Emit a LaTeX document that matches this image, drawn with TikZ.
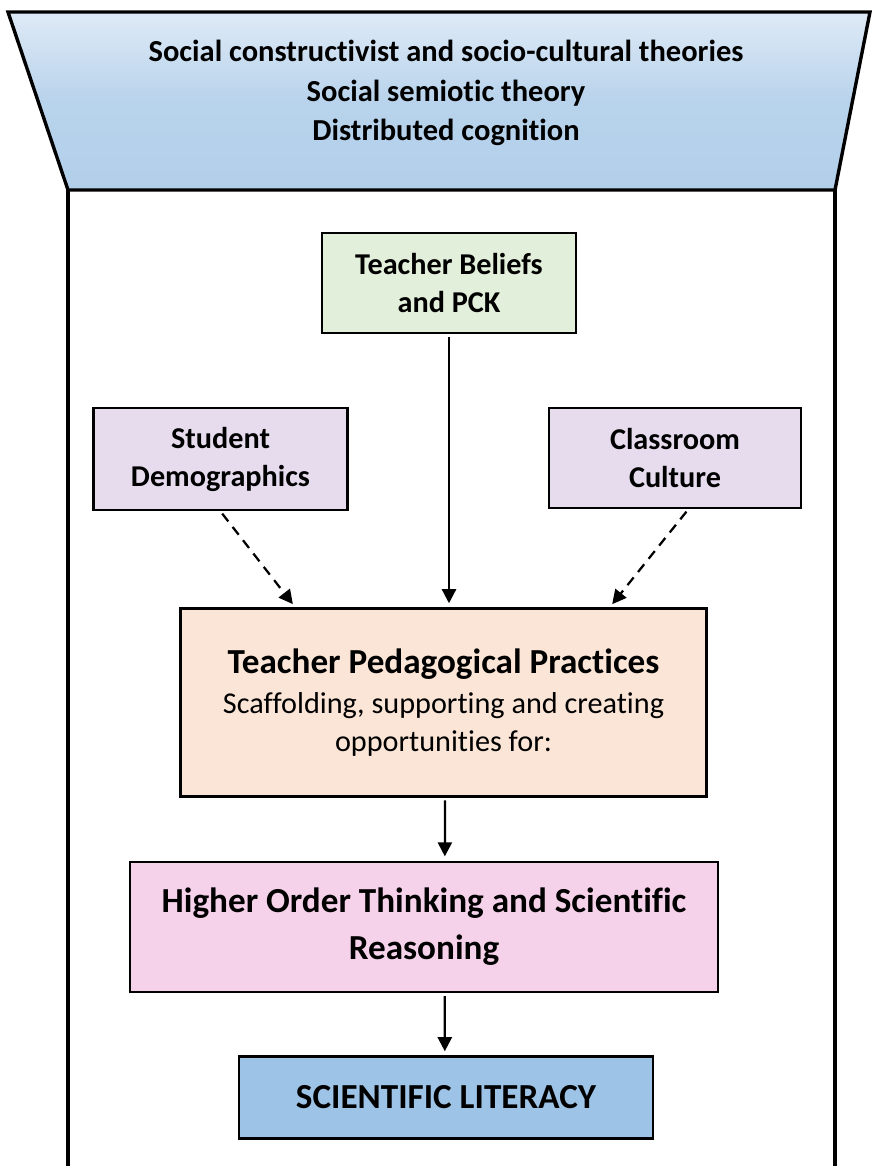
\documentclass[tikz,border=0pt]{standalone}
\usepackage{fontspec}
\setmainfont{Carlito}[Ligatures=NoCommon]
\usetikzlibrary{arrows.meta}
\definecolor{headtop}{HTML}{DEEAF6}
\definecolor{headbot}{HTML}{B2CFEA}
\definecolor{pckgreen}{HTML}{E2EFDA}
\definecolor{lavender}{HTML}{E6DCEE}
\definecolor{peach}{HTML}{FBE5D6}
\definecolor{pinkbox}{HTML}{F5D2EA}
\definecolor{litblue}{HTML}{9DC3E6}
\begin{document}
\begin{tikzpicture}[x=0.025cm, y=-0.025cm,
                    box/.style={draw, line width=2pt, align=center, inner sep=0pt,
                                font=\bfseries\fontsize{21.5}{27}\selectfont},
                    flow/.style={-{Triangle[length=10pt,width=10pt]}, line width=1.6pt,
                                 shorten <=2pt, shorten >=3pt},
                    dashflow/.style={flow, dash pattern=on 7pt off 5pt}]

  \useasboundingbox (0,0) rectangle (872,1166);

  % theory frame
  \shade[top color=headtop, bottom color=headbot, middle color=headbot!85!headtop]
    (8,12) -- (870,12) -- (835,190) -- (68,190) -- cycle;
  \draw[line width=2.4pt, line join=miter] (8,12) -- (870,12) -- (835,190) -- (68,190) -- cycle;
  \draw[line width=2.4pt] (68,190) -- (68,1170);
  \draw[line width=2.4pt] (835,190) -- (835,1170);
  \node[align=center, font=\bfseries\fontsize{21.7}{28}\selectfont] (theory) at (446,93)
    {Social constructivist and socio-cultural theories\\Social semiotic theory\\Distributed cognition};

  \node[box, fill=pckgreen, minimum width=6.35cm, minimum height=2.5cm] (beliefs) at (449,283)
    {Teacher Beliefs\\and PCK};
  \node[box, fill=lavender, minimum width=6.33cm, minimum height=2.55cm] (students) at (220.5,459)
    {Student\\Demographics};
  \node[box, fill=lavender, minimum width=6.3cm, minimum height=2.5cm] (culture) at (675,458)
    {Classroom\\Culture};
  \node[box, fill=peach, minimum width=13.13cm, minimum height=4.68cm] (practices) at (443.5,702.5)
    {{\fontsize{25}{30}\selectfont Teacher Pedagogical Practices}\\[1.5pt]
     \mdseries Scaffolding, supporting and creating\\\mdseries opportunities for:};
  \node[box, fill=pinkbox, minimum width=14.7cm, minimum height=3.25cm,
        font=\bfseries\fontsize{25}{33.5}\selectfont] (higher) at (424,927)
    {Higher Order Thinking and Scientific\\Reasoning};
  \node[box, fill=litblue, minimum width=10.35cm, minimum height=2.03cm,
        font=\bfseries\fontsize{25}{28}\selectfont] (literacy) at (446,1097.5)
    {SCIENTIFIC LITERACY};

  \draw[flow] (beliefs.south) -- (practices.north -| beliefs.south);
  \draw[dashflow] (students.south) -- ([xshift=2.9cm]practices.north west);
  \draw[dashflow] ([xshift=0.33cm]culture.south) -- ([xshift=-2.45cm]practices.north east);
  \draw[flow] ([xshift=0.04cm]practices.south) -- ([xshift=0.52cm]higher.north);
  \draw[flow] ([xshift=0.52cm]higher.south) -- ([xshift=-0.03cm]literacy.north);

\end{tikzpicture}
\end{document}
